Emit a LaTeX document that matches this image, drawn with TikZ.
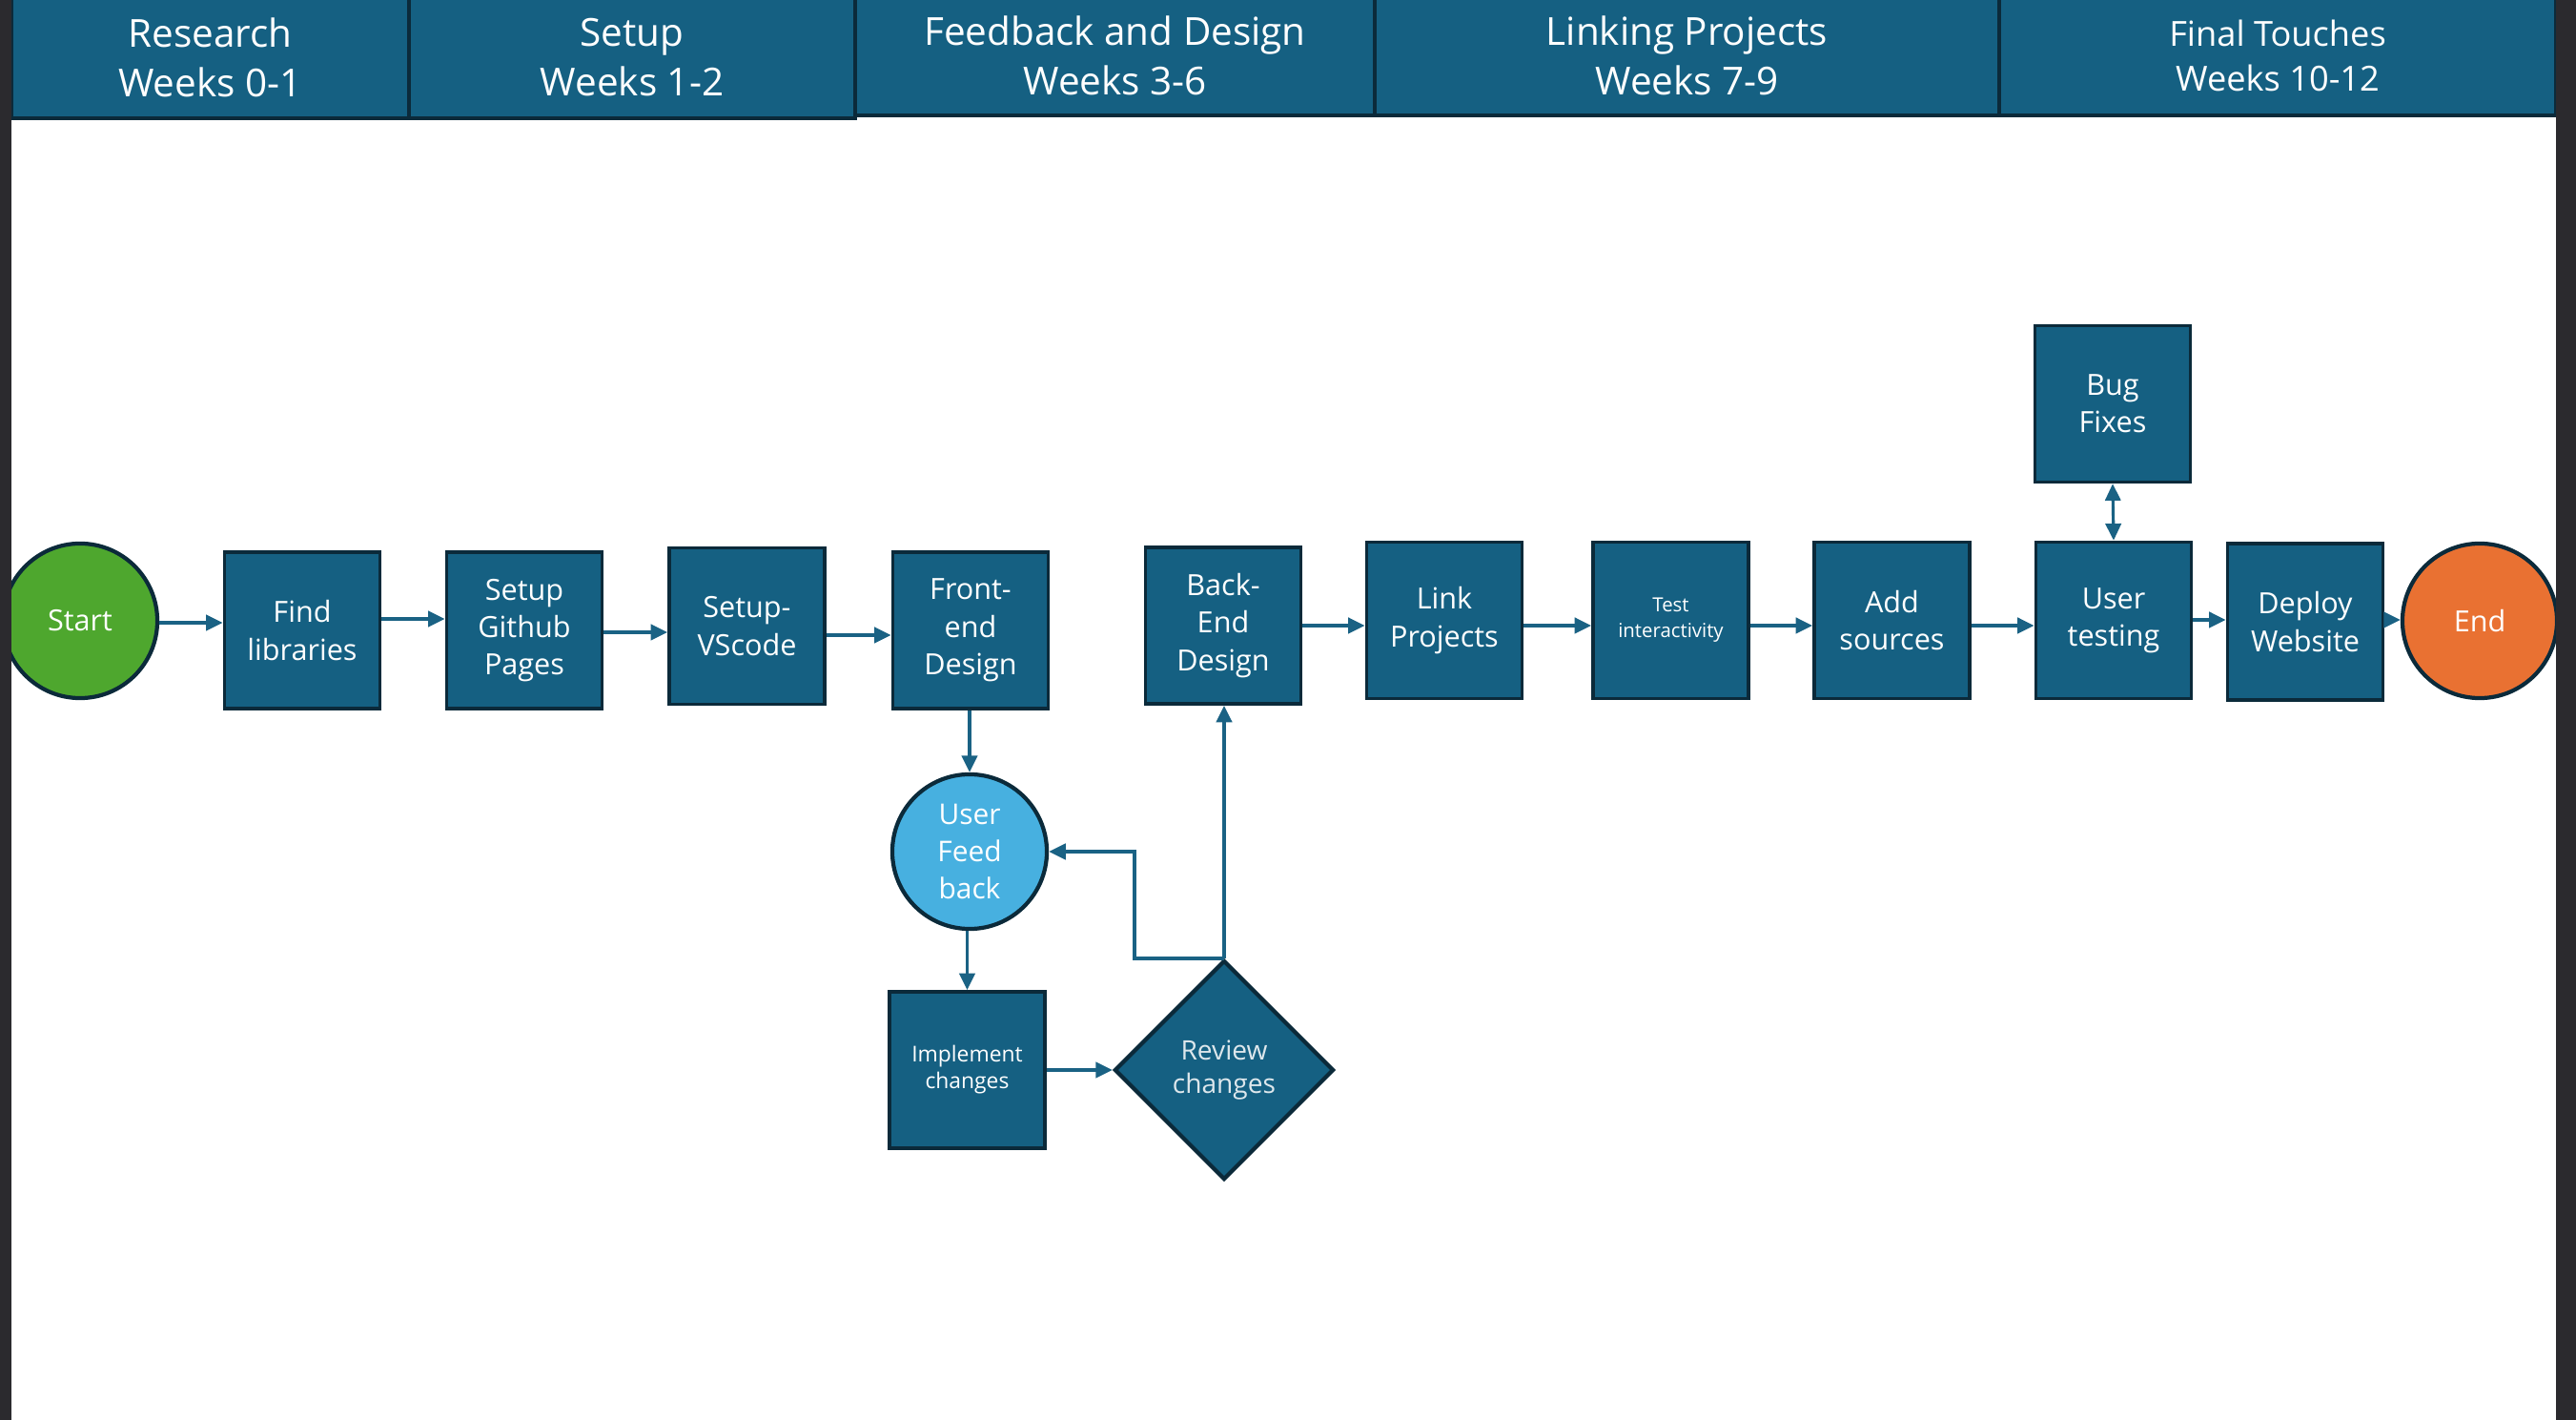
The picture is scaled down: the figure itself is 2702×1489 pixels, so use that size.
\documentclass[tikz,border=0pt]{standalone}
\usepackage{fontspec}
\setmainfont{Open Sans}
\usetikzlibrary{arrows.meta,shapes.geometric}
\definecolor{boxblue}{HTML}{156082}
\definecolor{edge}{HTML}{0B2A3A}
\definecolor{startg}{HTML}{4EA72E}
\definecolor{endo}{HTML}{E97132}
\definecolor{fbblue}{HTML}{47B0E0}
\definecolor{strip}{HTML}{2B2A2E}
\definecolor{arrowc}{HTML}{1A6284}
\definecolor{revtext}{HTML}{DDE7EC}
\begin{document}
\begin{tikzpicture}[x=0.01cm,y=-0.01cm,
  box/.style={draw=edge, line width=1pt, fill=boxblue, text=white, align=center, inner sep=0pt,
    minimum width=1.63cm, minimum height=1.64cm, font=\fontsize{8.7}{11.2}\selectfont},
  hdr/.style={draw=edge, line width=1.1pt, fill=boxblue, text=white, align=center, inner sep=0pt,
    font=\fontsize{11.5}{14.8}\selectfont},
  circ/.style={circle, draw=edge, line width=1.2pt, text=white, inner sep=0pt, minimum size=1.62cm,
    align=center, font=\fontsize{8.7}{11.2}\selectfont},
  arr/.style={draw=arrowc, line width=1.1pt, -{Triangle[length=5pt,width=4.6pt]}},
  dblarr/.style={draw=arrowc, line width=0.9pt, {Triangle[length=5pt,width=4.6pt]}-{Triangle[length=5pt,width=4.6pt]}}
]
\useasboundingbox (0,0) rectangle (2702,1489);
\fill[white] (0,0) rectangle (2702,1489);

% header
\node[hdr, minimum width=4.17cm, minimum height=1.28cm] (h1) at (220.5,60) {Research\\Weeks 0-1};
\node[hdr, minimum width=4.68cm, minimum height=1.28cm] (h2) at (663,60) {Setup\\Weeks 1-2};
\node[hdr, minimum width=5.45cm, minimum height=1.25cm] (h3) at (1169.5,58.5) {Feedback and Design\\Weeks 3-6};
\node[hdr, minimum width=6.55cm, minimum height=1.25cm] (h4) at (1769.5,58.5) {Linking Projects\\Weeks 7-9};
\node[hdr, minimum width=5.84cm, minimum height=1.25cm, font=\fontsize{10.3}{13.5}\selectfont] (h5) at (2389,58.5) {Final Touches\\Weeks 10-12};

% main row
\node[circ, fill=startg] (start) at (84,651) {Start};
\node[box] (find) at (317,661) {Find\\libraries};
\node[box] (github) at (550,661) {Setup\\Github\\Pages};
\node[box] (vscode) at (783.5,656.5) {Setup-\\VScode};
\node[box] (front) at (1018,661) {Front-\\end\\Design};
\node[box] (backend) at (1283,656) {Back-\\End\\Design};
\node[box] (link) at (1515,650.5) {Link\\Projects};
\node[box, font=\fontsize{5.8}{7.7}\selectfont] (test) at (1752.5,650.5) {Test\\interactivity};
\node[box] (add) at (1984.5,650.5) {Add\\sources};
\node[box] (usert) at (2217,650.5) {User\\testing};
\node[box] (deploy) at (2418,652) {Deploy\\Website};
\node[circ, fill=endo] (endn) at (2601,651) {End};
\node[box] (bug) at (2216,423.5) {Bug\\Fixes};

% feedback loop
\node[circ, fill=fbblue, font=\fontsize{8.5}{11.2}\selectfont] (uf) at (1017,893) {User\\Feed\\back};
\node[box, font=\fontsize{6.5}{8}\selectfont] (impl) at (1014.5,1122) {Implement\\changes};
\node[diamond, draw=edge, line width=1.2pt, fill=boxblue, minimum width=2.3cm, minimum height=2.3cm,
  inner sep=0pt, text=revtext, align=center, font=\fontsize{8}{10}\selectfont] (review) at (1284,1122) {Review\\changes};

% connectors
\draw[arr] (start.east |- 0,653) -- (find.west |- 0,653);
\draw[arr] (find.east |- 0,649) -- (github.west |- 0,649);
\draw[arr] (github.east |- 0,663) -- (vscode.west |- 0,663);
\draw[arr] (vscode.east |- 0,666) -- (front.west |- 0,666);
\draw[arr] (uf.north |- front.south) -- (uf.north);
\draw[arr] (impl.north |- uf.south) -- (impl.north);
\draw[arr] (impl.east) -- (review.west);
\coordinate (loopc) at (1190,0);
\draw[arr] (review.north) -- (review.north -| loopc) |- (uf.east);
\draw[arr] (review.north) -- (review.north |- backend.south);
\draw[arr] (backend.east |- 0,656) -- (link.west |- 0,656);
\draw[arr] (link.east |- 0,656) -- (test.west |- 0,656);
\draw[arr] (test.east |- 0,656) -- (add.west |- 0,656);
\draw[arr] (add.east |- 0,656) -- (usert.west |- 0,656);
\draw[arr] (usert.east |- 0,650) -- (deploy.west |- 0,650);
\draw[arr] (deploy.east |- 0,650) -- (endn.west |- 0,650);
\draw[dblarr] (bug.south) -- (usert.north);

% side strips
\fill[strip] (0,0) rectangle (12,1489);
\fill[strip] (2681,0) rectangle (2702,1489);
\end{tikzpicture}
\end{document}
